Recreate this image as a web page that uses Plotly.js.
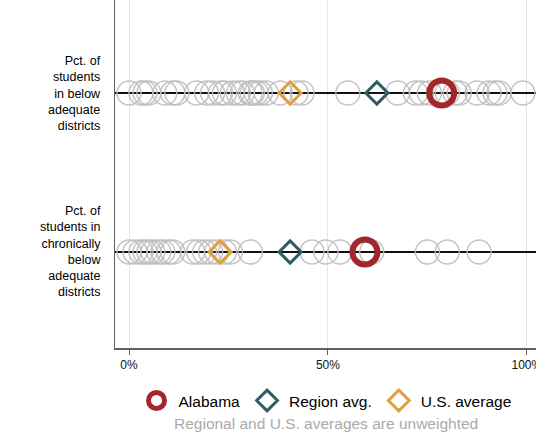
<!DOCTYPE html>
<html>
<head>
<meta charset="utf-8">
<script src="https://cdn.plot.ly/plotly-3.0.1.min.js"></script>
<style>html,body{margin:0;padding:0;background:#fff;}#chart{width:536px;height:436px;}</style>
</head>
<body>
<div id="chart"></div>
<script>
// Row labels (top row first)
const rowLabels = [
  "Pct. of<br>students<br>in below<br>adequate<br>districts",
  "Pct. of<br>students in<br>chronically<br>below<br>adequate<br>districts"
];
const rowPos = [1, 0];

// Other states (percent) for each row
const statesRow1 = [0, 3, 4, 5, 9, 11, 12, 17, 19.5, 21, 23, 24, 26, 27.5, 28.5, 30.5, 31, 32, 33, 34.5, 38, 42, 43.5, 55, 67.5, 72, 73.5, 75.5, 79, 80, 82, 83, 87.5, 90.5, 92, 93, 99];
const statesRow2 = [0, 1.5, 3, 4, 5, 6, 7.5, 8.5, 10, 11, 16, 17.5, 19, 20.5, 22, 24, 25.5, 30.5, 46, 49.5, 53, 61, 75, 80, 88];

// Highlighted values [row1, row2]
const alabama = [78.6, 59.3];
const regionAvg = [62.3, 40.5];
const usAvg = [40.5, 22.9];

const xTickVals = [0, 50, 100];
const xTickText = ["0%", "50%", "100%"];

const FONT = "Liberation Sans, Arial, Helvetica, sans-serif";

const grayX = statesRow1.concat(statesRow2);
const grayY = statesRow1.map(() => rowPos[0]).concat(statesRow2.map(() => rowPos[1]));

const traces = [
  {
    type: "scatter", mode: "markers", x: grayX, y: grayY, showlegend: false, hoverinfo: "x",
    marker: {symbol: "circle-open", size: 24, color: "rgba(190,190,190,0.9)", line: {width: 1.5}}
  },
  {
    type: "scatter", mode: "markers", name: "Alabama", x: alabama, y: rowPos,
    marker: {symbol: "circle-open", size: 25, color: "#a0282c", line: {width: 6}}
  },
  {
    type: "scatter", mode: "markers", name: "Region avg.", x: regionAvg, y: rowPos,
    marker: {symbol: "diamond-open", size: 17, color: "#2f5c64", line: {width: 3}}
  },
  {
    type: "scatter", mode: "markers", name: "U.S. average", x: usAvg, y: rowPos,
    marker: {symbol: "diamond-open", size: 17, color: "#e2a03c", line: {width: 3}}
  }
];

const rowAnnotations = rowLabels.map((t, i) => ({
  text: t, xref: "paper", yref: "y", x: -0.029, y: rowPos[i],
  xanchor: "right", yanchor: "middle", align: "right", showarrow: false,
  font: {family: FONT, size: 12.5, color: "#000"}
}));

const layout = {
  width: 536, height: 436,
  margin: {l: 115, r: 0, t: 0, b: 88},
  paper_bgcolor: "#fff", plot_bgcolor: "#fff",
  font: {family: FONT, color: "#000"},
  xaxis: {
    range: [-3.52, 102.3], tickvals: xTickVals, ticktext: xTickText,
    showgrid: true, gridcolor: "#e6e6e6", gridwidth: 1, zeroline: false,
    showline: true, linecolor: "#5f5f5f", linewidth: 1.5,
    ticks: "outside", ticklen: 5, tickcolor: "#5f5f5f", tickwidth: 1,
    ticklabeloverflow: "allow",
    tickfont: {family: FONT, size: 12, color: "#111"}, fixedrange: true
  },
  yaxis: {
    range: [-0.604, 1.585], tickvals: rowPos, showticklabels: false,
    showgrid: true, gridcolor: "#111", gridwidth: 1.3, zeroline: false,
    showline: true, linecolor: "#5f5f5f", linewidth: 1.5,
    ticks: "", fixedrange: true
  },
  showlegend: true,
  legend: {
    orientation: "h", x: 0.5, xanchor: "center", y: -0.152, yanchor: "middle",
    font: {family: FONT, size: 15.5, color: "#000"}, itemsizing: "trace", traceorder: "normal",
    itemwidth: 34
  },
  annotations: rowAnnotations.concat([{
    text: "Regional and U.S. averages are unweighted", xref: "paper", yref: "paper",
    x: 0.5, y: -0.218, xanchor: "center", yanchor: "middle", showarrow: false,
    font: {family: FONT, size: 15.5, color: "#aaaaaa"}
  }])
};

Plotly.newPlot("chart", traces, layout, {displayModeBar: false, staticPlot: true});
</script>
</body>
</html>
